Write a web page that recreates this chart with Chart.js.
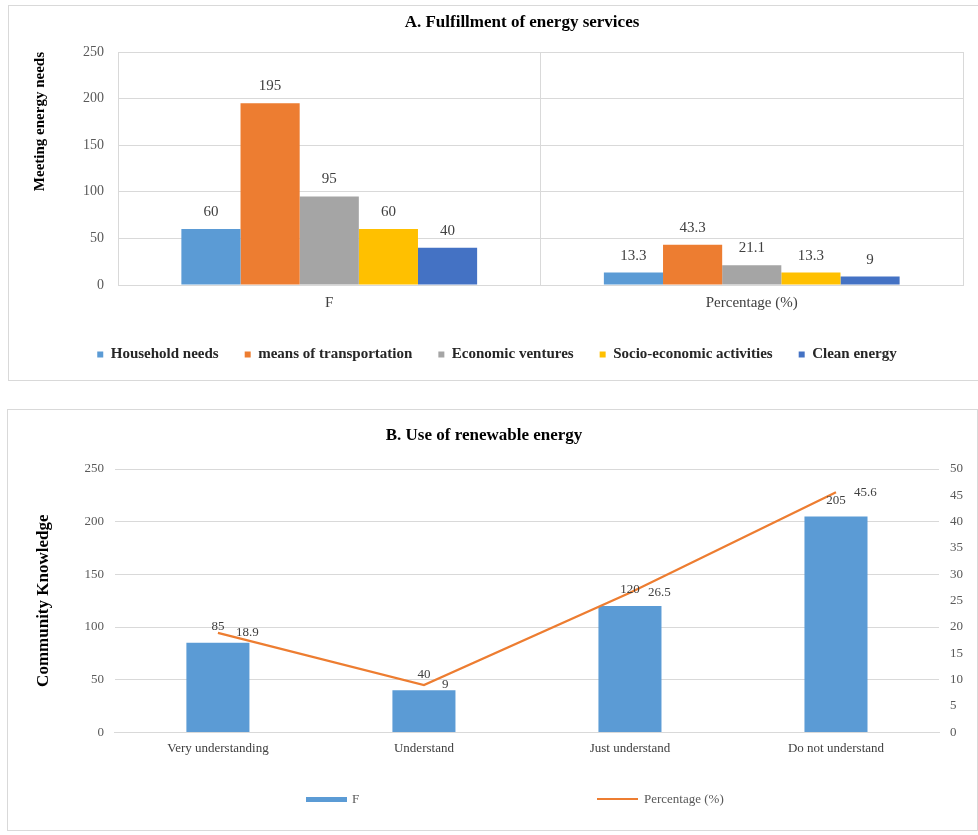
<!DOCTYPE html>
<html>
<head>
<meta charset="utf-8">
<title>Energy services and renewable energy</title>
<script src="https://cdn.jsdelivr.net/npm/chart.js@4.4.1/dist/chart.umd.min.js"></script>
<style>
  body { margin: 0; background: #fff; font-family: "Liberation Serif", "Times New Roman", serif; }
  .panel { position: absolute; border: 1px solid #d9d9d9; box-sizing: border-box; }
  #panelA { left: 8px; top: 5px; width: 980px; height: 376px; }
  #panelB { left: 7px; top: 409px; width: 971px; height: 422px; }
  .title { position: absolute; width: 400px; text-align: center; font-size: 17px; line-height: 20px;
           font-weight: bold; color: #000; white-space: nowrap; }
  #titleA { left: 322px; top: 12px; }
  #titleB { left: 284px; top: 425px; }
  canvas { position: absolute; }
  #chartA { left: 8px; top: 5px; }
  #chartB { left: 8px; top: 410px; }
  .legend-mark { position: absolute; }
  .legend-text { position: absolute; font-size: 13px; line-height: 16px; color: #595959; white-space: nowrap; }
</style>
</head>
<body>
<div class="panel" id="panelA"></div>
<div class="panel" id="panelB"></div>
<canvas id="chartA" width="962" height="375"></canvas>
<canvas id="chartB" width="970" height="420"></canvas>
<div class="title" id="titleA">A. Fulfillment of energy services</div>
<div class="title" id="titleB">B. Use of renewable energy</div>
<div id="legendB"></div>

<script>
// --- A. Fulfillment of energy services ---
const categoriesA = ['F', 'Percentage (%)'];
const householdNeeds = [60, 13.3];
const transportation = [195, 43.3];
const economicVentures = [95, 21.1];
const socioEconomic = [60, 13.3];
const cleanEnergy = [40, 9];

// --- B. Use of renewable energy ---
const levelsB = ['Very understanding', 'Understand', 'Just understand', 'Do not understand'];
const frequencyB = [85, 40, 120, 205];
const percentageB = [18.9, 9, 26.5, 45.6];

const SERIF = '"Liberation Serif", "Times New Roman", serif';
Chart.defaults.font.family = SERIF;

// value labels above bars / right of line points
const valueLabels = {
    id: 'valueLabels',
    afterDatasetsDraw(chart, args, opts) {
        const ctx = chart.ctx;
        ctx.save();
        ctx.font = opts.size + 'px ' + SERIF;
        ctx.fillStyle = opts.color;
        ctx.textBaseline = 'middle';
        chart.data.datasets.forEach((ds, i) => {
            const meta = chart.getDatasetMeta(i);
            meta.data.forEach((el, j) => {
                const v = ds.data[j];
                if (meta.type === 'line') {
                    ctx.textAlign = 'left';
                    ctx.fillText(v, el.x + opts.lineDx, el.y);
                } else {
                    ctx.textAlign = 'center';
                    ctx.fillText(v, el.x, el.y - opts.barDy);
                }
            });
        });
        ctx.restore();
    }
};

const seriesA = [
    { label: 'Household needs', data: householdNeeds, color: '#5B9BD5' },
    { label: 'means of transportation', data: transportation, color: '#ED7D31' },
    { label: 'Economic ventures', data: economicVentures, color: '#A5A5A5' },
    { label: 'Socio-economic activities', data: socioEconomic, color: '#FFC000' },
    { label: 'Clean energy', data: cleanEnergy, color: '#4472C4' }
];

new Chart(document.getElementById('chartA'), {
    type: 'bar',
    data: {
        labels: categoriesA,
        datasets: seriesA.map(s => ({
            label: s.label,
            data: s.data,
            backgroundColor: s.color,
            barPercentage: 1,
            categoryPercentage: 0.7
        }))
    },
    options: {
        responsive: false,
        animation: false,
        layout: { padding: { left: 23, right: 7, top: 47, bottom: 8 } },
        plugins: {
            legend: {
                position: 'bottom',
                labels: {
                    boxWidth: 6, boxHeight: 6, padding: 26, color: '#262626',
                    font: { size: 15, weight: 'bold' }
                }
            },
            tooltip: { enabled: false },
            valueLabels: { size: 15, color: '#404040', barDy: 17 }
        },
        scales: {
            x: {
                grid: { color: '#d9d9d9', drawTicks: false },
                border: { color: '#d9d9d9' },
                ticks: { padding: 9, color: '#404040', font: { size: 15 } }
            },
            y: {
                min: 0, max: 250,
                ticks: { stepSize: 50, padding: 14, color: '#595959', font: { size: 14 } },
                grid: { color: '#d9d9d9', drawTicks: false },
                border: { display: false },
                title: {
                    display: true, text: 'Meeting energy needs', align: 'end', color: '#000',
                    font: { size: 15, weight: 'bold' }, padding: { top: 0, bottom: 20 }
                }
            }
        }
    },
    plugins: [valueLabels]
});

const chartB = new Chart(document.getElementById('chartB'), {
    type: 'bar',
    data: {
        labels: levelsB,
        datasets: [
            {
                label: 'F',
                data: frequencyB,
                backgroundColor: '#5B9BD5',
                barPercentage: 1,
                categoryPercentage: 0.306,
                yAxisID: 'y',
                order: 2
            },
            {
                type: 'line',
                label: 'Percentage (%)',
                data: percentageB,
                borderColor: '#ED7D31',
                backgroundColor: '#ED7D31',
                borderWidth: 2.25,
                pointRadius: 0,
                tension: 0,
                yAxisID: 'y1',
                order: 1
            }
        ]
    },
    options: {
        responsive: false,
        animation: false,
        layout: { padding: { left: 25, right: 4, top: 59, bottom: 66 } },
        plugins: {
            legend: { display: false },
            tooltip: { enabled: false },
            valueLabels: { size: 13, color: '#404040', barDy: 16, lineDx: 18 }
        },
        scales: {
            x: {
                grid: { display: false, drawTicks: false },
                border: { color: '#d9d9d9' },
                ticks: { padding: 8, color: '#404040', font: { size: 13 } }
            },
            y: {
                position: 'left',
                min: 0, max: 250,
                ticks: { stepSize: 50, padding: 11, color: '#595959', font: { size: 13 } },
                grid: { color: '#d9d9d9', drawTicks: false },
                border: { display: false },
                title: {
                    display: true, text: 'Community Knowledge', color: '#000',
                    font: { size: 17, weight: 'bold' }, padding: { top: 0, bottom: 20 }
                }
            },
            y1: {
                position: 'right',
                min: 0, max: 50,
                ticks: { stepSize: 5, padding: 11, color: '#595959', font: { size: 13 } },
                grid: { display: false, drawTicks: false },
                border: { display: false }
            }
        }
    },
    plugins: [valueLabels]
});

// HTML legend for B (items sit far apart, as in the original)
const legendB = document.getElementById('legendB');
const legendSpots = [
    { markLeft: 306, textLeft: 352, height: 5, top: 797 },
    { markLeft: 597, textLeft: 644, height: 2, top: 798 }
];
chartB.data.datasets.forEach((ds, i) => {
    const spot = legendSpots[i];
    const mark = document.createElement('div');
    mark.className = 'legend-mark';
    mark.style.cssText = `left:${spot.markLeft}px;top:${spot.top}px;width:41px;height:${spot.height}px;background:${ds.type === 'line' ? ds.borderColor : ds.backgroundColor}`;
    const text = document.createElement('div');
    text.className = 'legend-text';
    text.style.cssText = `left:${spot.textLeft}px;top:791px`;
    text.textContent = ds.label;
    legendB.appendChild(mark);
    legendB.appendChild(text);
});
</script>
</body>
</html>
